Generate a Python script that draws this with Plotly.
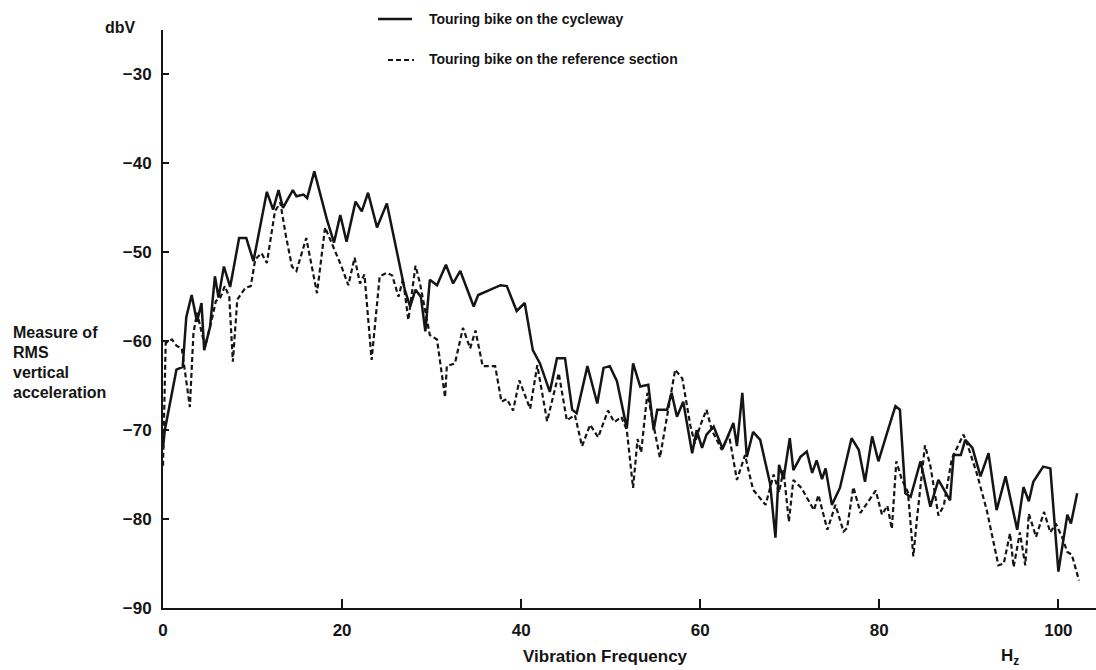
import plotly.graph_objects as go

# Solid: touring bike on the cycleway
cycle_x = [0.0, 0.2, 1.5, 2.2, 2.6, 3.2, 3.8, 4.3, 4.6, 5.25, 5.8, 6.2, 6.8, 7.5, 8.5, 9.3, 10.1,
           11.6, 12.3, 12.9, 13.4, 14.5, 14.9, 15.7, 16.1, 16.9, 18.3, 19.1, 19.8, 20.5, 21.5, 22.2,
           22.9, 23.9, 25.0, 27.0, 27.6, 28.2, 28.8, 29.3, 29.8, 30.6, 31.6, 32.4, 33.2, 34.7, 35.2,
           37.7, 38.4, 39.5, 40.4, 41.3, 42.1, 43.2, 44.0, 44.9, 45.7, 46.2, 47.4, 48.5, 49.2, 49.9,
           50.7, 51.8, 52.5, 53.3, 54.2, 54.8, 55.2, 56.3, 56.8, 57.4, 58.1, 59.1, 59.6, 60.2, 60.7,
           61.5, 62.5, 63.7, 64.1, 64.7, 65.2, 65.9, 66.7, 67.8, 68.4, 68.8, 69.3, 70.0, 70.4, 71.2,
           71.9, 72.5, 73.0, 73.6, 74.0, 74.7, 75.6, 76.9, 77.7, 78.4, 79.2, 79.9, 80.9, 81.8, 82.3,
           82.9, 83.5, 84.6, 85.7, 86.6, 87.9, 88.3, 89.1, 89.6, 90.4, 91.3, 92.2, 93.1, 94.1, 95.4,
           96.1, 96.7, 97.2, 98.3, 99.1, 100.0, 101.0, 101.4, 102.1]
cycle_y = [-72, -70, -63.2, -62.9, -57.3, -54.8, -57.8, -55.7, -61, -58.4, -52.7, -55.1, -51.6, -53.9,
           -48.4, -48.4, -51, -43.2, -45.2, -43, -45, -43, -43.7, -43.5, -43.9, -40.9, -46.3, -48.9,
           -45.8, -48.8, -44.3, -45.4, -43.3, -47.2, -44.5, -54.2, -56.1, -54.2, -55, -58.9, -53.1,
           -53.7, -51.4, -53.5, -52.1, -56.1, -54.8, -53.7, -53.8, -56.6, -55.7, -61, -62.5, -65.7,
           -61.9, -61.9, -67.7, -68.1, -62.8, -67, -63, -62.8, -64.5, -69.8, -62.5, -65.1, -64.9, -70,
           -67.7, -67.7, -65.8, -68.5, -66.8, -72.6, -70, -72, -70.5, -69.6, -72.1, -69.2, -71.8,
           -65.8, -73, -70.2, -71.1, -76, -82.1, -73.9, -75.5, -70.9, -74.5, -73, -72.4, -74.8, -73.4,
           -75.5, -74.3, -78.4, -76.5, -70.9, -72.2, -75.8, -70.7, -73.5, -70.2, -67.3, -67.7, -77.1,
           -77.5, -73.5, -78.6, -75.6, -77.9, -72.8, -72.8, -71.1, -72.0, -75.2, -72.6, -79, -75.2,
           -81.2, -76.4, -78, -75.8, -74.1, -74.3, -85.9, -79.5, -80.5, -77.1]

# Dashed: touring bike on the reference section
ref_x = [0.0, 0.3, 1.0, 1.5, 2.1, 3.0, 3.4, 3.8, 4.2, 4.7, 5.4, 5.9, 6.4, 6.9, 7.4, 7.8, 8.3, 9.2,
         9.8, 10.3, 11.0, 11.6, 12.5, 13.1, 13.7, 14.4, 14.9, 16.0, 16.6, 17.2, 18.1, 19.0, 19.9,
         20.7, 21.4, 22.0, 22.5, 23.3, 24.2, 25.0, 25.6, 26.3, 26.8, 27.4, 28.2, 28.7, 29.3, 29.8,
         30.6, 31.5, 31.7, 32.6, 33.5, 34.3, 34.9, 35.7, 37.1, 37.8, 38.4, 39.1, 39.8, 40.3, 41.0,
         41.8, 42.9, 44.2, 44.7, 45.1, 46.0, 46.8, 47.7, 48.6, 49.7, 50.4, 51.2, 51.8, 52.5, 53.0,
         53.4, 54.1, 54.7, 55.5, 56.2, 57.2, 58.0, 58.9, 59.4, 60.0, 60.7, 61.3, 62.4, 63.2, 64.1,
         65.0, 65.9, 67.3, 68.2, 68.8, 69.3, 69.9, 70.4, 71.3, 72.7, 73.2, 74.2, 75.1, 76.0, 76.4,
         77.1, 77.9, 79.6, 80.3, 80.9, 81.4, 81.9, 82.5, 83.2, 83.8, 84.2, 85.1, 85.7, 86.6, 87.2,
         88.1, 89.4, 89.9, 90.9, 92.0, 93.3, 93.9, 94.6, 95.0, 95.7, 96.3, 96.7, 97.5, 98.4, 99.1,
         99.7, 100.4, 101.0, 101.5, 102.3]
ref_y = [-74, -60.2, -59.8, -60.5, -60.8, -67.4, -59.1, -56.8, -58.5, -60.6, -57.8, -55.5, -55.1,
         -53.8, -55, -62.3, -55.3, -54, -53.8, -50.8, -50.1, -51.2, -45.4, -44.4, -48, -51.6, -52.1,
         -48.4, -51.5, -54.6, -47.2, -49.3, -51.5, -53.7, -50.6, -53.5, -52.5, -62.1, -52.7, -52.3,
         -52.6, -55, -53, -57.6, -51.5, -53.5, -56.5, -59.3, -59.8, -66.3, -62.8, -62.5, -58.5,
         -60.8, -58.8, -62.8, -62.8, -66.8, -66.5, -67.8, -64.4, -65.8, -67.6, -62.7, -69, -63.6,
         -66.5, -68.9, -68.3, -71.8, -69.4, -70.8, -67.8, -69.1, -68.5, -70, -76.5, -71, -72.5,
         -65.8, -69, -73.1, -69, -63.2, -64.2, -69.5, -71.5, -69.5, -67.7, -70, -72.2, -70.5, -75.6,
         -72.8, -76.7, -78.4, -75, -77, -74.5, -80.3, -75.6, -76.5, -79, -77.3, -81.2, -78.4, -81.4,
         -81, -76.4, -79.3, -76.8, -79.5, -78.5, -81.1, -73.5, -75.5, -77, -84.2, -80, -71.7, -74,
         -79.6, -78.5, -73.2, -70.5, -71.8, -74.9, -79, -85.2, -85, -81.6, -85.4, -81.5, -85.2,
         -79.4, -82, -79.2, -81.5, -80.5, -82, -83.7, -84, -86.9]

x_ticks = [0, 20, 40, 60, 80, 100]
y_ticks = [-30, -40, -50, -60, -70, -80, -90]
ylabel_lines = ["Measure of", "RMS", "vertical", "acceleration"]

FONT = "Liberation Sans Narrow, Arial Narrow, Liberation Sans, Arial, sans-serif"
INK = "#151515"
DASH = "5px,3px"

fig = go.Figure()
fig.add_trace(go.Scatter(x=ref_x, y=ref_y, mode="lines", name="Touring bike on the reference section",
                         line=dict(color=INK, width=2.2, dash=DASH)))
fig.add_trace(go.Scatter(x=cycle_x, y=cycle_y, mode="lines", name="Touring bike on the cycleway",
                         line=dict(color=INK, width=2.5)))

L, R, T, B = 163, 0, 30, 62
W, H = 1096, 670
pw, ph = W - L - R, H - T - B

def px(xp):
    return (xp - L) / pw

def py(yp):
    return (H - B - yp) / ph

fig.update_layout(
    width=W, height=H,
    margin=dict(l=L, r=R, t=T, b=B),
    paper_bgcolor="white", plot_bgcolor="white",
    showlegend=False,
    font=dict(family=FONT, color=INK, size=13),
    xaxis=dict(range=[0, 104.2], tickvals=x_ticks, ticks="inside", ticklen=9, tickwidth=1.5,
               tickcolor=INK, showline=True, linecolor=INK, linewidth=2, showgrid=False,
               zeroline=False, ticklabelstandoff=6,
               tickfont=dict(size=17, weight="bold", family=FONT)),
    yaxis=dict(range=[-90, -25], tickvals=y_ticks, ticks="inside", ticklen=6, tickwidth=1.5,
               tickcolor=INK, showline=True, linecolor=INK, linewidth=2, showgrid=False,
               zeroline=False, ticklabelstandoff=6,
               tickfont=dict(size=17, weight="bold", family=FONT)),
)

# legend drawn manually
fig.add_shape(type="line", xref="paper", yref="paper", x0=px(378), x1=px(412), y0=py(19), y1=py(19),
              line=dict(color=INK, width=2.5))
fig.add_shape(type="line", xref="paper", yref="paper", x0=px(388), x1=px(414), y0=py(60), y1=py(60),
              line=dict(color=INK, width=2.2, dash=DASH))
ann = [
    (427, 19, "Touring bike on the cycleway", "left", 14),
    (427, 59, "Touring bike on the reference section", "left", 14),
    (103, 27, "dbV", "left", 16),
    (605, 656, "Vibration Frequency", "center", 17),
]
for x0, y0, txt, al, sz in ann:
    fig.add_annotation(x=px(x0), y=py(y0), xref="paper", yref="paper", text=txt, showarrow=False,
                       xanchor=al, yanchor="middle", font=dict(size=sz, weight="bold", family=FONT))
fig.add_annotation(x=px(1010), y=py(657), xref="paper", yref="paper", text="H<sub>z</sub>",
                   showarrow=False, xanchor="center", yanchor="middle",
                   font=dict(size=17, weight="bold", family=FONT))
for i, line_txt in enumerate(ylabel_lines):
    fig.add_annotation(x=px(11), y=py(332 + 20.3 * i), xref="paper", yref="paper",
                       text=line_txt, showarrow=False, xanchor="left", yanchor="middle",
                       font=dict(size=16, weight="bold", family=FONT))

fig.write_html("out.html", config={"displayModeBar": False},
               post_script="document.body.style.margin='0';")
